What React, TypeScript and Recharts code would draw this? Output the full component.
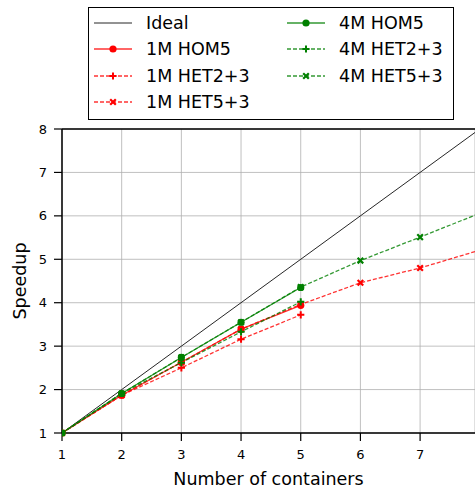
import React from 'react';
import { LineChart, Line, XAxis, YAxis, CartesianGrid, ReferenceLine } from 'recharts';

const containers = [1, 2, 3, 4, 5, 6, 7, 8];
const ideal = [1, 2, 3, 4, 5, 6, 7, 8];
const m1Hom5 = [1, 1.87, 2.63, 3.39, 3.94];
const m1Het23 = [1, 1.87, 2.5, 3.16, 3.72];
const m1Het53 = [1, 1.87, 2.63, 3.39, 3.96, 4.46, 4.8, 5.21];
const m4Hom5 = [1, 1.91, 2.74, 3.55, 4.35];
const m4Het23 = [1, 1.91, 2.62, 3.33, 4.02];
const m4Het53 = [1, 1.91, 2.74, 3.55, 4.36, 4.97, 5.51, 6.06];
const xTicks = [1, 2, 3, 4, 5, 6, 7];
const yTicks = [1, 2, 3, 4, 5, 6, 7, 8];

type Marker = 'none' | 'circle' | 'plus' | 'x';
interface Series { key: string; name: string; values: number[]; color: string; dashed: boolean; marker: Marker; }

const series: Series[] = [
  { key: 'ideal', name: 'Ideal', values: ideal, color: '#000000', dashed: false, marker: 'none' },
  { key: 'm1Hom5', name: '1M HOM5', values: m1Hom5, color: '#ff0000', dashed: false, marker: 'circle' },
  { key: 'm1Het23', name: '1M HET2+3', values: m1Het23, color: '#ff0000', dashed: true, marker: 'plus' },
  { key: 'm1Het53', name: '1M HET5+3', values: m1Het53, color: '#ff0000', dashed: true, marker: 'x' },
  { key: 'm4Hom5', name: '4M HOM5', values: m4Hom5, color: '#008000', dashed: false, marker: 'circle' },
  { key: 'm4Het23', name: '4M HET2+3', values: m4Het23, color: '#008000', dashed: true, marker: 'plus' },
  { key: 'm4Het53', name: '4M HET5+3', values: m4Het53, color: '#008000', dashed: true, marker: 'x' },
];

const data = containers.map((x, i) => {
  const row: Record<string, number | null> = { x };
  series.forEach((s) => { row[s.key] = i < s.values.length ? s.values[i] : null; });
  return row;
});

const FONT = '"DejaVu Sans", sans-serif';

function markerShape(marker: Marker, cx: number, cy: number, color: string, key?: string | number) {
  if (marker === 'circle') return <circle key={key} cx={cx} cy={cy} r={3.6} fill={color} stroke="none" />;
  if (marker === 'plus') {
    const s = 3.6;
    return <path key={key} d={`M${cx - s},${cy}H${cx + s}M${cx},${cy - s}V${cy + s}`} stroke={color} strokeWidth={2} fill="none" />;
  }
  if (marker === 'x') {
    const s = 2.8;
    return <path key={key} d={`M${cx - s},${cy - s}L${cx + s},${cy + s}M${cx - s},${cy + s}L${cx + s},${cy - s}`} stroke={color} strokeWidth={2.2} fill="none" />;
  }
  return <g key={key} />;
}

const makeDot = (s: Series) => (props: any) => {
  const { cx, cy, index, value } = props;
  if (cx == null || cy == null || value == null || (Array.isArray(value) && value[1] == null)) return <g key={`d-${s.key}-${index}`} />;
  return markerShape(s.marker, cx, cy, s.color, `d-${s.key}-${index}`);
};

const XLabel = (props: any) => {
  const vb = props.viewBox || { x: 0, y: 0, width: 0, height: 0 };
  return (
    <text x={vb.x + vb.width / 2} y={vb.y + vb.height - 6} textAnchor="middle" fontSize={17.5} fontFamily={FONT} fill="#000">
      Number of containers
    </text>
  );
};

const YLabel = (props: any) => {
  const vb = props.viewBox || { x: 0, y: 0, width: 0, height: 0 };
  const x = vb.x + 20;
  const y = vb.y + vb.height / 2;
  return (
    <text x={x} y={y} transform={`rotate(-90 ${x} ${y})`} textAnchor="middle" dominantBaseline="central" fontSize={17.5} fontFamily={FONT} fill="#000">
      Speedup
    </text>
  );
};

const LegendItem = ({ s, left, top }: { s: Series; left: number; top: number }) => (
  <div style={{ position: 'absolute', left, top: top - 13, height: 26, display: 'flex', alignItems: 'center', whiteSpace: 'nowrap' }}>
    <svg width={40} height={26} style={{ display: 'block' }}>
      <line x1={1} y1={13} x2={39} y2={13} stroke={s.color} strokeWidth={s.key === 'ideal' ? 1 : 1.3} strokeOpacity={s.key === 'ideal' ? 0.85 : 0.8} strokeDasharray={s.dashed ? '4 2' : undefined} />
      {markerShape(s.marker, 20, 13, s.color)}
    </svg>
    <span style={{ marginLeft: 13, fontSize: 17.5, fontFamily: FONT, color: '#000', lineHeight: '26px' }}>{s.name}</span>
  </div>
);

export default function App() {
  const col1 = series.slice(0, 4);
  const col2 = series.slice(4);
  const rowY = [23, 49, 76, 102];
  return (
    <div style={{ position: 'absolute', left: 0, top: 0, width: 475, height: 491, overflow: 'hidden', background: '#fff' }}>
      <LineChart width={475} height={491} data={data} margin={{ top: 129, right: 0, bottom: 0, left: 0 }}>
        <CartesianGrid stroke="#b0b0b0" strokeWidth={0.8} />
        <XAxis
          dataKey="x"
          type="number"
          domain={[1, 7.92]}
          allowDataOverflow
          ticks={xTicks}
          height={58}
          tickSize={8}
          tickMargin={9}
          axisLine={{ stroke: '#000', strokeWidth: 1.5 }}
          tickLine={{ stroke: '#000', strokeWidth: 1.2 }}
          tick={{ fontSize: 13, fontFamily: FONT, fill: '#000' }}
          label={<XLabel />}
        />
        <YAxis
          type="number"
          domain={[1, 8]}
          ticks={yTicks}
          width={62}
          tickSize={8}
          tickMargin={7}
          axisLine={{ stroke: '#000', strokeWidth: 1.5 }}
          tickLine={{ stroke: '#000', strokeWidth: 1.2 }}
          tick={{ fontSize: 13, fontFamily: FONT, fill: '#000' }}
          label={<YLabel />}
        />
        <ReferenceLine y={8} stroke="#000" strokeWidth={1.5} />
        {series.map((s) => (
          <Line
            key={s.key}
            dataKey={s.key}
            name={s.name}
            type="linear"
            stroke={s.color}
            strokeWidth={s.key === 'ideal' ? 1 : 1.3}
            strokeOpacity={s.key === 'ideal' ? 0.85 : 0.8}
            strokeDasharray={s.dashed ? '4 2' : undefined}
            dot={s.marker === 'none' ? false : makeDot(s)}
            activeDot={false}
            connectNulls={false}
            isAnimationActive={false}
          />
        ))}
      </LineChart>
      <div style={{ position: 'absolute', left: 88, top: 7, width: 366, height: 113, border: '1.5px solid #000', boxSizing: 'border-box', background: '#fff' }} />
      {col1.map((s, i) => <LegendItem key={s.key} s={s} left={93} top={rowY[i]} />)}
      {col2.map((s, i) => <LegendItem key={s.key} s={s} left={286} top={rowY[i]} />)}
    </div>
  );
}
